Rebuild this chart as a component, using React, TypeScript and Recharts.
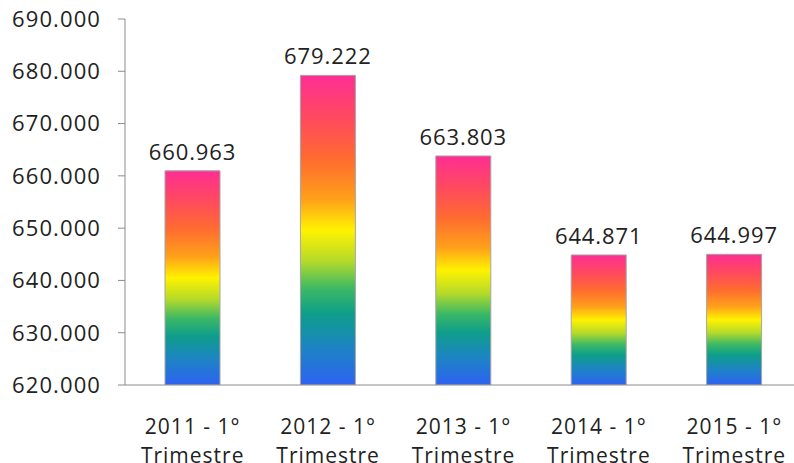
import { BarChart, Bar, XAxis, YAxis, LabelList } from 'recharts';

const periods = ['2011 - 1°', '2012 - 1°', '2013 - 1°', '2014 - 1°', '2015 - 1°'];
const periodSuffix = 'Trimestre';
const workers = [660963, 679222, 663803, 644871, 644997];
const yTicks = [620000, 630000, 640000, 650000, 660000, 670000, 680000, 690000];

const FONT = '"Open Sans", "Noto Sans", sans-serif';
const AXIS = '#8C8C8C';
const INK = '#222222';

// rainbow, top (pink) to bottom (blue), stretched per bar
const STOPS: [number, string][] = [
  [0, '#FF2E93'],
  [0.14, '#FF4A5E'],
  [0.27, '#FF6B30'],
  [0.4, '#FFA01A'],
  [0.5, '#FFF200'],
  [0.6, '#B4DA2A'],
  [0.69, '#3BB866'],
  [0.77, '#0E9E8A'],
  [0.88, '#1D84C4'],
  [1, '#2E62F2'],
];

const fmt = (v: number) => String(v).replace(/\B(?=(\d{3})+(?!\d))/g, '.');

const data = periods.map((p, i) => ({ periodo: p, valore: workers[i] }));

const CategoryTick = ({ x, y, payload }: any) => (
  <g transform={`translate(${x},${y})`}>
    <text textAnchor="middle" fontFamily={FONT} fontSize={21} letterSpacing={1} fill={INK}>
      <tspan x={0} y={41}>{payload.value}</tspan>
      <tspan x={0} y={70}>{periodSuffix}</tspan>
    </text>
  </g>
);

export default function App() {
  return (
    <div style={{ position: 'absolute', left: 0, top: 0, width: 794, height: 463, overflow: 'hidden', background: '#fff' }}>
      <BarChart width={802} height={463} data={data} margin={{ top: 19, right: 0, left: 0, bottom: 0 }}>
        <defs>
          <linearGradient id="rainbow" x1="0" y1="0" x2="0" y2="1">
            {STOPS.map(([o, c]) => (
              <stop key={o} offset={o} stopColor={c} />
            ))}
          </linearGradient>
        </defs>
        <XAxis
          dataKey="periodo"
          height={78}
          axisLine={{ stroke: AXIS }}
          tickLine={false}
          tick={<CategoryTick />}
          interval={0}
        />
        <XAxis
          xAxisId="bounds"
          type="number"
          domain={[0, 5]}
          ticks={[0, 1, 2, 3, 4, 5]}
          height={0}
          axisLine={false}
          tickLine={{ stroke: AXIS }}
          tickSize={7}
          tickFormatter={() => ''}
        />
        <YAxis
          width={125}
          domain={[620000, 690000]}
          ticks={yTicks}
          tickFormatter={fmt}
          axisLine={{ stroke: AXIS }}
          tickLine={{ stroke: AXIS }}
          tickSize={7}
          tickMargin={17}
          allowDataOverflow
          tick={{ fontFamily: FONT, fontSize: 22, fill: INK, letterSpacing: 1.1 }}
        />
        <Bar dataKey="valore" barSize={55} fill="url(#rainbow)" stroke="#A6A6A6" strokeWidth={1} isAnimationActive={false}>
          <LabelList
            dataKey="valore"
            position="top"
            offset={11}
            formatter={(v: any) => fmt(Number(v))}
            style={{ fontFamily: FONT, fontSize: 22, fill: INK, letterSpacing: 0.9 }}
          />
        </Bar>
      </BarChart>
    </div>
  );
}
